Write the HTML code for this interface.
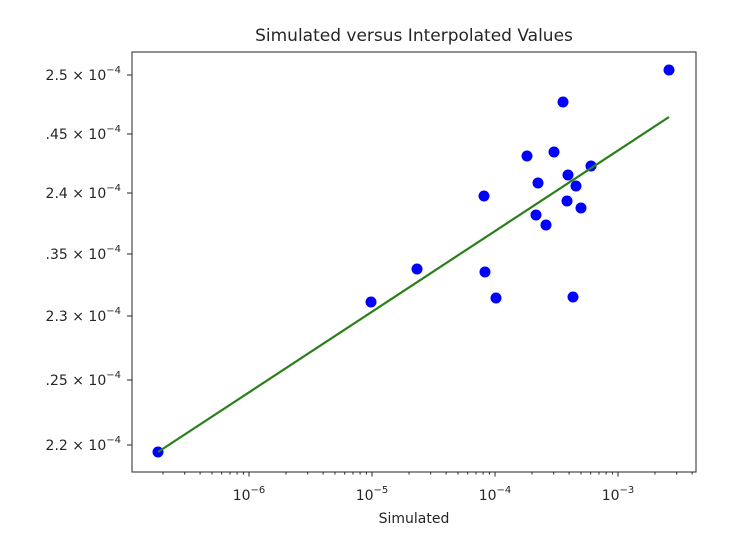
<!DOCTYPE html>
<html><head><meta charset="utf-8"><style>
body{margin:0;background:#fff;}
text{font-family:"DejaVu Sans","Liberation Sans",sans-serif;fill:#262626;}
</style></head><body>
<svg width="750" height="543" xmlns="http://www.w3.org/2000/svg">
<rect width="750" height="543" fill="#fff"/>
<text x="414" y="41" font-size="17" text-anchor="middle">Simulated versus Interpolated Values</text>
<path stroke="#262626" stroke-width="1" fill="none" d="
M127 75H132M127 134H132M127 193H132M127 254H132M127 316H132M127 380H132M127 445H132
M249 472v4.5M372 472v4.5M495 472v4.5M618 472v4.5
M163 472v2.5M184.7 472v2.5M200.1 472v2.5M212 472v2.5M221.7 472v2.5M230 472v2.5M237.1 472v2.5M243.4 472v2.5
M286 472v2.5M307.7 472v2.5M323.1 472v2.5M335 472v2.5M344.7 472v2.5M353 472v2.5M360.1 472v2.5M366.4 472v2.5
M409 472v2.5M430.7 472v2.5M446.1 472v2.5M458 472v2.5M467.7 472v2.5M476 472v2.5M483.1 472v2.5M489.4 472v2.5
M532 472v2.5M553.7 472v2.5M569.1 472v2.5M581 472v2.5M590.7 472v2.5M599 472v2.5M606.1 472v2.5M612.4 472v2.5
M655 472v2.5M676.7 472v2.5M692.1 472v2.5"/>
<g font-size="14">
<text x="121" y="80" text-anchor="end">2.5 × 10<tspan dy="-7" font-size="10">−4</tspan></text>
<text x="121" y="139" text-anchor="end">.45 × 10<tspan dy="-7" font-size="10">−4</tspan></text>
<text x="121" y="198" text-anchor="end">2.4 × 10<tspan dy="-7" font-size="10">−4</tspan></text>
<text x="121" y="259" text-anchor="end">.35 × 10<tspan dy="-7" font-size="10">−4</tspan></text>
<text x="121" y="321" text-anchor="end">2.3 × 10<tspan dy="-7" font-size="10">−4</tspan></text>
<text x="121" y="385" text-anchor="end">.25 × 10<tspan dy="-7" font-size="10">−4</tspan></text>
<text x="121" y="450" text-anchor="end">2.2 × 10<tspan dy="-7" font-size="10">−4</tspan></text>
<text x="249" y="500" text-anchor="middle">10<tspan dy="-7" font-size="10">−6</tspan></text>
<text x="372" y="500" text-anchor="middle">10<tspan dy="-7" font-size="10">−5</tspan></text>
<text x="495" y="500" text-anchor="middle">10<tspan dy="-7" font-size="10">−4</tspan></text>
<text x="618" y="500" text-anchor="middle">10<tspan dy="-7" font-size="10">−3</tspan></text>
<text x="414" y="523" font-size="14" text-anchor="middle">Simulated</text>
</g>
<g fill="#0000ff">
<circle cx="669" cy="70" r="5.5"/><circle cx="563" cy="102" r="5.5"/><circle cx="527" cy="156" r="5.5"/>
<circle cx="554" cy="152" r="5.5"/><circle cx="591" cy="166" r="5.5"/><circle cx="568" cy="175" r="5.5"/>
<circle cx="538" cy="183" r="5.5"/><circle cx="576" cy="186" r="5.5"/><circle cx="484" cy="196" r="5.5"/>
<circle cx="567" cy="201" r="5.5"/><circle cx="581" cy="208" r="5.5"/><circle cx="536" cy="215" r="5.5"/>
<circle cx="546" cy="225" r="5.5"/><circle cx="485" cy="272" r="5.5"/><circle cx="496" cy="298" r="5.5"/>
<circle cx="573" cy="297" r="5.5"/><circle cx="417" cy="269" r="5.5"/><circle cx="371" cy="302" r="5.5"/>
<circle cx="158" cy="452" r="5.5"/>
</g>
<line x1="158" y1="452" x2="669" y2="117" stroke="#2a7f1a" stroke-width="2.2"/>
<rect x="132" y="52" width="564" height="420" fill="none" stroke="#262626" stroke-width="1"/>
</svg>
</body></html>
